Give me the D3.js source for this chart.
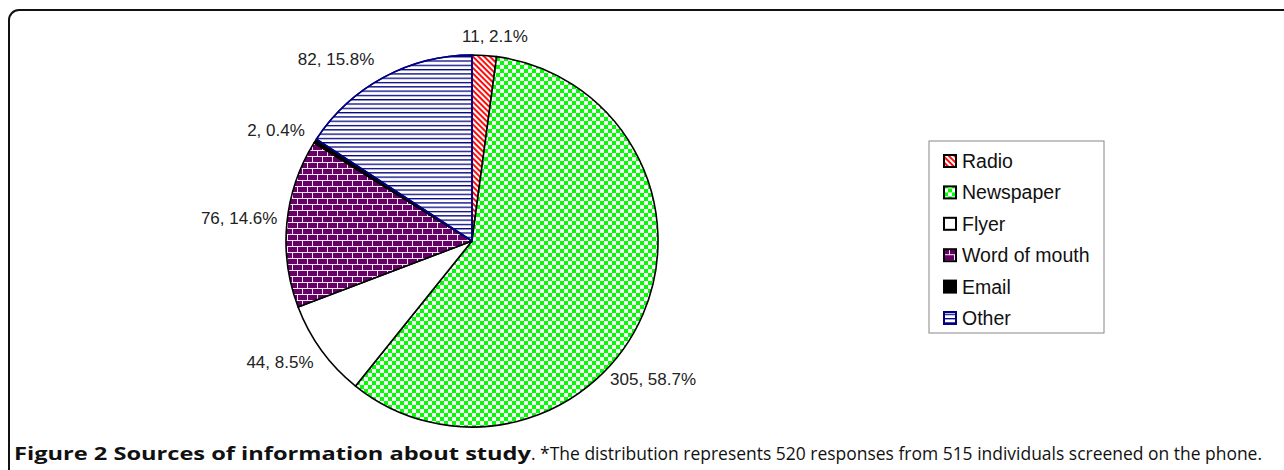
<!DOCTYPE html>
<html>
<head>
<meta charset="utf-8">
<script src="https://cdn.jsdelivr.net/npm/d3@7"></script>
<style>
  html, body { margin: 0; padding: 0; background: #fff; }
  svg { display: block; }
</style>
</head>
<body>
<div id="chart"></div>
<script>
// Sources of information about study — patterned pie with legend

const categories = ['Radio', 'Newspaper', 'Flyer', 'Word of mouth', 'Email', 'Other'];
const counts     = [11, 305, 44, 76, 2, 82];
const percents   = ['2.1%', '58.7%', '8.5%', '14.6%', '0.4%', '15.8%'];

// layout-only tweaks for data labels: angle shift (deg) and radius factor
const labelShift  = [2.6, 14.2, 3.6, 0.1, -3.2, -8.5];
const labelRadius = [1.104, 1.225, 1.223, 1.258, 1.209, 1.217];

const W = 1284, H = 470;
const cx = 472, cy = 241, R = 186;

const svg = d3.select('#chart').append('svg')
  .attr('width', W).attr('height', H)
  .attr('viewBox', `0 0 ${W} ${H}`);

const defs = svg.append('defs');

// Radio: red downward diagonal stripes
const pRadio = defs.append('pattern')
  .attr('id', 'p-radio').attr('patternUnits', 'userSpaceOnUse')
  .attr('width', 4).attr('height', 4)
  .attr('patternTransform', 'rotate(45)');
pRadio.append('rect').attr('width', 4).attr('height', 4).attr('fill', '#fff');
pRadio.append('rect').attr('width', 4).attr('height', 1.9).attr('fill', '#ff0000');

// Newspaper: green checkerboard
const pNews = defs.append('pattern')
  .attr('id', 'p-news').attr('patternUnits', 'userSpaceOnUse')
  .attr('width', 8).attr('height', 8);
pNews.append('rect').attr('width', 8).attr('height', 8).attr('fill', '#fff');
pNews.append('rect').attr('width', 4).attr('height', 4).attr('fill', '#00ff00');
pNews.append('rect').attr('x', 4).attr('y', 4).attr('width', 4).attr('height', 4).attr('fill', '#00ff00');

// Word of mouth: purple bricks
const pBrick = defs.append('pattern')
  .attr('id', 'p-brick').attr('patternUnits', 'userSpaceOnUse')
  .attr('width', 10).attr('height', 12);
pBrick.append('rect').attr('width', 10).attr('height', 12).attr('fill', '#660066');
pBrick.append('rect').attr('y', 5).attr('width', 10).attr('height', 1).attr('fill', '#f4e8f4');
pBrick.append('rect').attr('y', 11).attr('width', 10).attr('height', 1).attr('fill', '#f4e8f4');
pBrick.append('rect').attr('x', 0).attr('y', 0).attr('width', 1).attr('height', 5).attr('fill', '#f4e8f4');
pBrick.append('rect').attr('x', 5).attr('y', 6).attr('width', 1).attr('height', 5).attr('fill', '#f4e8f4');

// Other: navy horizontal lines
const pOther = defs.append('pattern')
  .attr('id', 'p-other').attr('patternUnits', 'userSpaceOnUse')
  .attr('width', 4).attr('height', 4.3);
pOther.append('rect').attr('width', 4).attr('height', 4.3).attr('fill', '#fff');
pOther.append('rect').attr('width', 4).attr('height', 1.3).attr('fill', '#000080');

const fills   = ['url(#p-radio)', 'url(#p-news)', '#ffffff', 'url(#p-brick)', '#000000', 'url(#p-other)'];
const strokes = ['#000', '#000', '#000', '#000', '#000', '#000080'];

// frame: top and left border with rounded corner
svg.append('path')
  .attr('d', `M9,${H} L9,20 A10,10 0 0 1 19,10 L${W},10`)
  .attr('fill', 'none')
  .attr('stroke', '#111')
  .attr('stroke-width', 2);

const data = categories.map((c, i) => ({ name: c, value: counts[i], pct: percents[i], i }));

const pie = d3.pie().value(d => d.value).sort(null);
const arcs = pie(data);
const arc = d3.arc().innerRadius(0).outerRadius(R);

const g = svg.append('g').attr('transform', `translate(${cx},${cy})`);

g.selectAll('path.slice')
  .data(arcs)
  .join('path')
  .attr('class', 'slice')
  .attr('d', arc)
  .attr('fill', d => fills[d.data.i])
  .attr('stroke', d => strokes[d.data.i])
  .attr('stroke-width', 1.6)
  .attr('stroke-linejoin', 'round');

// redraw the Other edge on top so its navy outline shows
g.append('path')
  .attr('d', arc(arcs[5]))
  .attr('fill', 'none')
  .attr('stroke', '#000080')
  .attr('stroke-width', 1.6);

// data labels
g.selectAll('text.lbl')
  .data(arcs)
  .join('text')
  .attr('class', 'lbl')
  .each(function(d) {
    const mid = (d.startAngle + d.endAngle) / 2 + labelShift[d.data.i] * Math.PI / 180;
    const r = R * labelRadius[d.data.i];
    d3.select(this)
      .attr('x', r * Math.sin(mid))
      .attr('y', -r * Math.cos(mid));
  })
  .attr('text-anchor', 'middle')
  .attr('dominant-baseline', 'central')
  .attr('font-family', '"Liberation Sans", Arial, sans-serif')
  .attr('font-size', 17)
  .attr('fill', '#222')
  .text(d => `${d.data.value}, ${d.data.pct}`);

// legend
const lx = 929, ly = 141, lw = 175, lh = 192;
const legend = svg.append('g');
legend.append('rect')
  .attr('x', lx).attr('y', ly).attr('width', lw).attr('height', lh)
  .attr('fill', '#fff').attr('stroke', '#888').attr('stroke-width', 1);

const rowY = d3.scalePoint().domain(categories).range([ly + 20, ly + 177]);

const items = legend.selectAll('g.item')
  .data(data)
  .join('g')
  .attr('class', 'item')
  .attr('transform', d => `translate(${lx + 15},${rowY(d.name)})`);

items.append('rect')
  .attr('x', 0).attr('y', -6)
  .attr('width', 12).attr('height', 12)
  .attr('fill', d => fills[d.i])
  .attr('stroke', d => strokes[d.i])
  .attr('stroke-width', 2);

items.append('text')
  .attr('x', 18).attr('y', 0)
  .attr('dominant-baseline', 'central')
  .attr('font-family', '"Liberation Sans", Arial, sans-serif')
  .attr('font-size', 19.5)
  .attr('fill', '#111')
  .text(d => d.name);

// caption: bold title run followed by the note
const cap = svg.append('text')
  .attr('y', 460)
  .attr('font-family', '"Open Sans", sans-serif')
  .attr('font-size', 18)
  .attr('fill', '#111');
cap.append('tspan')
  .attr('x', 14)
  .attr('font-weight', 700)
  .attr('textLength', 517)
  .attr('lengthAdjust', 'spacingAndGlyphs')
  .text('Figure 2 Sources of information about study');
cap.append('tspan')
  .attr('x', 531)
  .attr('textLength', 731)
  .attr('lengthAdjust', 'spacingAndGlyphs')
  .text('. *The distribution represents 520 responses from 515 individuals screened on the phone.');
</script>
</body>
</html>
